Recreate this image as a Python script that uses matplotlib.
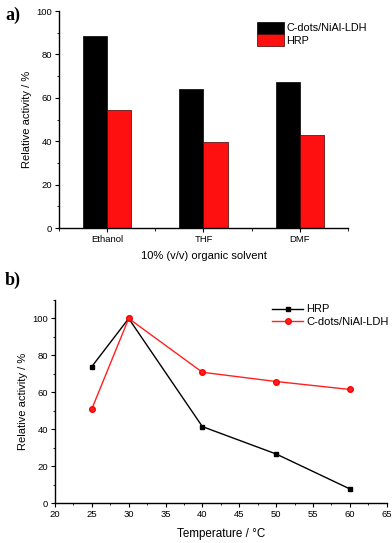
import matplotlib
matplotlib.use("Agg")
import matplotlib.pyplot as plt
import numpy as np
from matplotlib.ticker import MultipleLocator

plt.rcParams['font.family'] = ['Liberation Sans', 'DejaVu Sans']

# Panel a data
solvents = ["Ethanol", "THF", "DMF"]
cdots_solvent = [88.5, 64.3, 67.2]
hrp_solvent = [54.3, 39.7, 42.8]

# Panel b data
temps = [25, 30, 40, 50, 60]
hrp_temp = [74.0, 100.0, 41.5, 26.7, 7.8]
cdots_temp = [51.1, 100.0, 70.9, 65.9, 61.6]

fig = plt.figure(figsize=(3.92, 5.43), dpi=100)

# ---- Panel a ----
ax1 = fig.add_axes([0.1505, 0.580, 0.737, 0.3996])
x = np.arange(len(solvents))
w = 0.25
ax1.bar(x - w/2, cdots_solvent, w, color='black', edgecolor='black', linewidth=0.5, label='C-dots/NiAl-LDH')
ax1.bar(x + w/2, hrp_solvent, w, color='#ff1010', edgecolor='#400000', linewidth=0.5, label='HRP')
ax1.set_xlim(-0.5, 2.5)
ax1.set_ylim(0, 100)
ax1.set_xticks(x)
ax1.set_xticklabels(solvents)
ax1.xaxis.set_minor_locator(MultipleLocator(0.5))
ax1.yaxis.set_major_locator(MultipleLocator(20))
ax1.yaxis.set_minor_locator(MultipleLocator(10))
ax1.spines['top'].set_visible(False)
ax1.spines['right'].set_visible(False)
for sp in ['left', 'bottom']:
    ax1.spines[sp].set_linewidth(1.0)
ax1.tick_params(which='major', direction='out', length=3, width=0.8, labelsize=6.8, pad=2)
ax1.tick_params(which='minor', direction='out', length=1.5, width=0.6)
ax1.tick_params(axis='x', which='minor', length=2.5)
ax1.set_ylabel('Relative activity / %', fontsize=8, labelpad=3)
ax1.set_xlabel('10% (v/v) organic solvent', fontsize=8, labelpad=5)
ax1.legend(loc='upper right', bbox_to_anchor=(1.08, 0.97), frameon=False, fontsize=7.8,
           handlelength=2.5, handleheight=1.3, handletextpad=0.2, labelspacing=0.05,
           borderaxespad=0)
fig.text(0.013, 0.987, 'a)', fontsize=13, fontweight='bold', family='Liberation Serif',
         va='top', ha='left')

# ---- Panel b ----
ax2 = fig.add_axes([0.1403, 0.0731, 0.846, 0.3744])
ax2.plot(temps, hrp_temp, '-s', color='black', lw=1.0, ms=3.5, label='HRP')
ax2.plot(temps, cdots_temp, '-o', color='#ff2020', mec='#ff0000', lw=1.0, ms=4, label='C-dots/NiAl-LDH')
ax2.set_xlim(20, 65)
ax2.set_ylim(0, 110)
ax2.xaxis.set_major_locator(MultipleLocator(5))
ax2.xaxis.set_minor_locator(MultipleLocator(2.5))
ax2.yaxis.set_major_locator(MultipleLocator(20))
ax2.yaxis.set_minor_locator(MultipleLocator(10))
ax2.spines['top'].set_visible(False)
ax2.spines['right'].set_visible(False)
for sp in ['left', 'bottom']:
    ax2.spines[sp].set_linewidth(1.0)
ax2.tick_params(which='major', direction='out', length=3, width=0.8, labelsize=6.8, pad=2)
ax2.tick_params(which='minor', direction='out', length=1.5, width=0.6)
ax2.set_ylabel('Relative activity / %', fontsize=8, labelpad=3)
ax2.set_xlabel('Temperature / °C', fontsize=8.4, labelpad=6)
ax2.legend(loc='upper right', bbox_to_anchor=(1.02, 1.0), frameon=False, fontsize=8,
           handlelength=2.8, handletextpad=0.3, labelspacing=0.2, borderaxespad=0)
fig.text(0.013, 0.499, 'b)', fontsize=13, fontweight='bold', family='Liberation Serif',
         va='top', ha='left')

fig.savefig('out.png', dpi=100)
